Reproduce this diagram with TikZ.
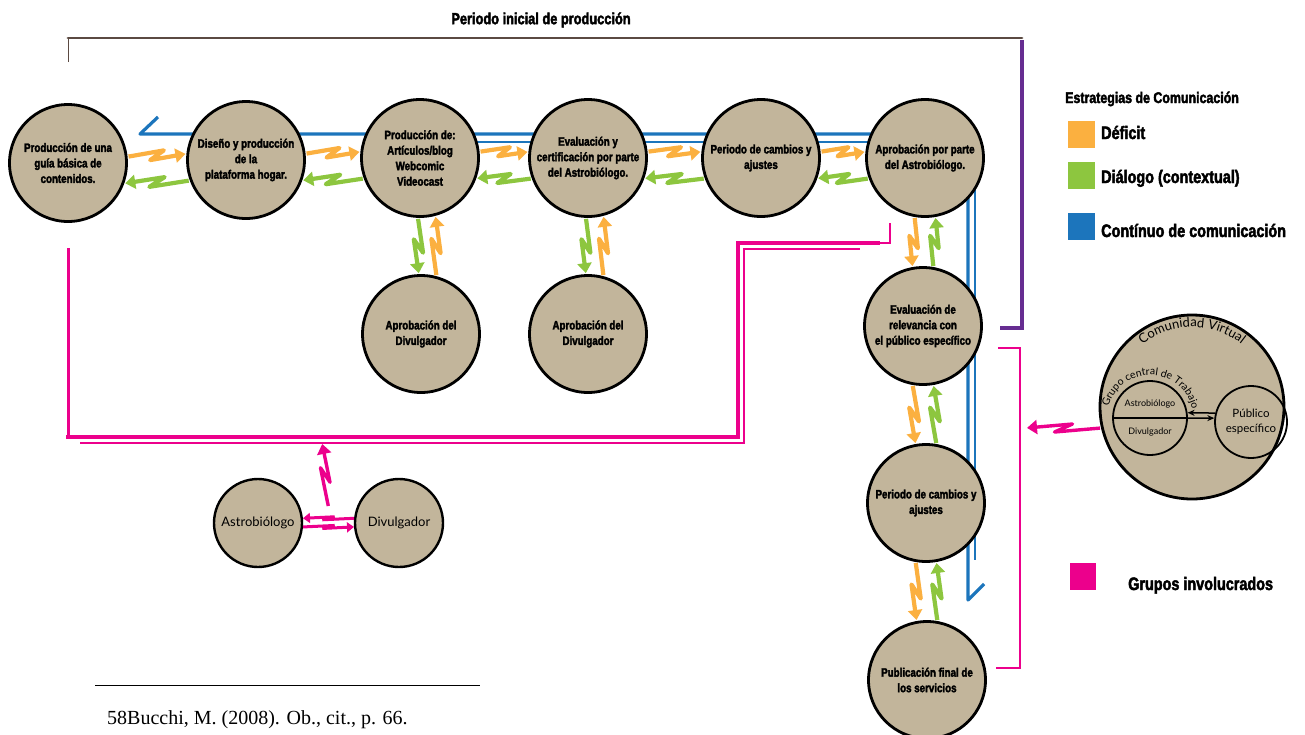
\documentclass[tikz,border=0pt]{standalone}
\usepackage{fontspec}
\usepackage{tikz}
\usetikzlibrary{arrows.meta,calc,decorations.text}
\newfontfamily\condfont[FakeStretch=0.8,BoldFeatures={FakeBold=2.5}]{Liberation Sans}
\newfontfamily\humfont{Lato}
\newfontfamily\serfont{Liberation Serif}
\definecolor{deficit}{HTML}{FBB040}
\definecolor{dialogo}{HTML}{8DC63F}
\definecolor{continuo}{HTML}{1C75BC}
\definecolor{grupos}{HTML}{EC008C}
\definecolor{cierre}{HTML}{662D91}
\definecolor{periodo}{HTML}{5B4A42}
\definecolor{disco}{HTML}{C2B59B}

\tikzset{
  etapa/.style={circle, draw=black, line width=2.8pt, fill=disco, minimum size=117pt,
    inner sep=0pt, align=center, font=\condfont\bfseries\fontsize{12.2}{15.5}\selectfont},
  actor/.style={circle, draw=black, line width=2.4pt, fill=disco, minimum size=88pt,
    inner sep=0pt, font=\humfont\fontsize{13}{15}\selectfont},
  zap/.style={to path={-- ($(\tikztostart)!.62!(\tikztotarget)!#1!90:(\tikztotarget)$)
    -- ($(\tikztostart)!.38!(\tikztotarget)!#1!-90:(\tikztotarget)$) -- (\tikztotarget)}},
  zap/.default=4.5pt,
  flecha/.style={line width=4.2pt, -{Triangle[length=10pt,width=14pt]},
    shorten <=1pt, shorten >=1pt, line join=round},
  leyenda/.style={anchor=base west, inner sep=0pt, font=\condfont\bfseries\fontsize{18}{20}\selectfont},
}

\begin{document}
\begin{tikzpicture}[x=1pt,y=-1pt]
  \useasboundingbox (0,0) rectangle (1305,734);
  % top bracket of the initial period
  \node[font=\condfont\bfseries\fontsize{16}{18}\selectfont] (titulo) at (541,20) {Periodo inicial de producción};
  \draw[periodo, line width=1pt] (68,62) -- (68,38);
  \draw[periodo, line width=2.8pt, line cap=round] (68,38) -- (1022,38);
  \draw[cierre, line width=3.2pt] (1022,40) -- (1022,328) -- (1000,328);

  % continuous communication (blue)
  \draw[continuo, line width=3.2pt, line join=round] (158,117) -- (140,134) -| (968,600) -- (984,584);
  \draw[continuo, line width=1.4pt] (420,142) -- (925,142);
  \draw[continuo, line width=1.4pt] (975,160) -- (975,560);

  % groups involved (pink)
  \draw[grupos, line width=3pt] (68,248) -- (68,437);
  \draw[grupos, line width=4.5pt] (66,437) -- (738,437) -- (738,243) -- (880,243);
  \draw[grupos, line width=1.2pt] (80,443) -- (744,443) -- (744,249) -- (860,249);
  \draw[grupos, line width=1.5pt] (880,243) -- (890,243) -- (890,223);
  \draw[grupos, line width=2.5pt] (998,348) -- (1020,348) -- (1020,668) -- (996,668);
  \coordinate (barra) at (322,443);
  \coordinate (borde) at (1026,428);

  % stages
  \node[etapa] (c1) at (68,163) {Producción de una\\guía básica de\\contenidos.};
  \node[etapa] (c2) at (246,160) {Diseño y producción\\de la\\plataforma hogar.};
  \node[etapa] (c3) at (420,158) {Producción de:\\Artículos/blog\\Webcomic\\Videocast};
  \node[etapa] (c4) at (588,158) {Evaluación y\\certificación por parte\\del Astrobiólogo.};
  \node[etapa] (c5) at (761,158) {Periodo de cambios y\\ajustes};
  \node[etapa] (c6) at (925,158) {Aprobación por parte\\del Astrobiólogo.};
  \node[etapa] (c7) at (421,334) {Aprobación del\\Divulgador};
  \node[etapa] (c8) at (588,334) {Aprobación del\\Divulgador};
  \node[etapa] (c9) at (923,326) {Evaluación de\\relevancia con\\el público específico};
  \node[etapa] (c10) at (926,503) {Periodo de cambios y\\ajustes};
  \node[etapa] (c11) at (927,680) {Publicación final de\\los servicios};

  % deficit / dialogue arrows
  \foreach \a/\b in {c1/c2,c2/c3,c3/c4,c4/c5,c5/c6} {
    \draw[flecha, deficit] (\a.6) to[zap] (\b.174);
    \draw[flecha, dialogo] (\b.-160) to[zap] (\a.-20);
  }
  \foreach \a/\b in {c3/c7,c4/c8} {
    \draw[flecha, dialogo] (\a.-92) to[zap] (\b.92);
    \draw[flecha, deficit] (\b.75) to[zap] (\a.-75);
  }
  \foreach \a/\b in {c6/c9,c9/c10,c10/c11} {
    \draw[flecha, deficit] (\a.-100) to[zap] (\b.100);
    \draw[flecha, dialogo] (\b.80) to[zap] (\a.-80);
  }

  % working group below
  \node[actor] (astro) at (258,523) {Astrobiólogo};
  \node[actor] (divul) at (399,523) {Divulgador};
  \coordinate (par) at ($(astro.east)!.5!(divul.west)+(0,-16)$);
  \draw[flecha, grupos, line width=3.4pt] (par) to[zap=4pt] (barra);
  \draw[grupos, line width=3pt, -{Triangle[length=7pt,width=10pt]}] (divul.174) to[zap=1.5pt] (astro.6);
  \draw[grupos, line width=3pt, -{Triangle[length=7pt,width=10pt]}] (astro.-5) to[zap=1.5pt] (divul.-175);

  % virtual community
  \node[circle, draw=black, line width=2.8pt, fill=disco, minimum size=184pt, inner sep=0pt] (cv) at (1192,407) {};
  \path[decorate, decoration={text along path, text align=center,
      text={|\humfont\fontsize{13}{13}\selectfont|Comunidad Virtual}}]
    ([shift={(135:80pt)}]cv.center) arc[start angle=135, end angle=45, radius=80pt];
  \node[circle, draw=black, line width=1.8pt, minimum size=74pt, inner sep=0pt] (grp) at (1150,418) {};
  \node[circle, draw=black, line width=1.8pt, minimum size=72pt, inner sep=0pt, align=center,
    font=\humfont\fontsize{11.5}{15}\selectfont] (pub) at (1251,422) {Público\\específico};
  \path[decorate, decoration={text along path, text align=center,
      text={|\humfont\fontsize{10.5}{10.5}\selectfont|Grupo central de Trabajo}}]
    ([shift={(172:43pt)}]grp.center) arc[start angle=172, end angle=4, radius=43pt];
  \draw[line width=2.2pt] (grp.west) -- (grp.east);
  \node[font=\humfont\fontsize{9}{10}\selectfont] (ga) at (1150,404) {Astrobiólogo};
  \node[font=\humfont\fontsize{9}{10}\selectfont] (gd) at (1150,432) {Divulgador};
  \draw[line width=1.5pt, -{Stealth[length=7pt,width=6pt]}] (pub.166) -- (grp.8);
  \draw[line width=1.5pt, -{Stealth[length=7pt,width=6pt]}] (grp.0) -- (pub.174);
  \draw[flecha, grupos, line width=3.4pt] (cv.193) to[zap=4pt] (borde);

  % legend
  \node[anchor=base west, inner sep=0pt, font=\condfont\bfseries\fontsize{15.5}{18}\selectfont] (estr) at (1065,103) {Estrategias de Comunicación};
  \foreach \col/\y/\b/\txt in {deficit/121/139/Déficit, dialogo/162/183/Diálogo (contextual), continuo/213/237/Contínuo de comunicación} {
    \fill[\col] (1068,\y) rectangle (1095,\y+27);
    \node[leyenda] at (1101,\b) {\txt};
  }
  \fill[grupos] (1070,563) rectangle (1096,590);
  \node[leyenda] (grl) at (1128,590) {Grupos involucrados};

  % footnote
  \draw[line width=1pt] (95,685) -- (480,685);
  \node[anchor=base west, inner sep=0pt, font=\serfont\fontsize{20}{22}\selectfont] (nota) at (107,724) {58Bucchi, M. (2008). Ob., cit., p. 66.};
\end{tikzpicture}
\end{document}
